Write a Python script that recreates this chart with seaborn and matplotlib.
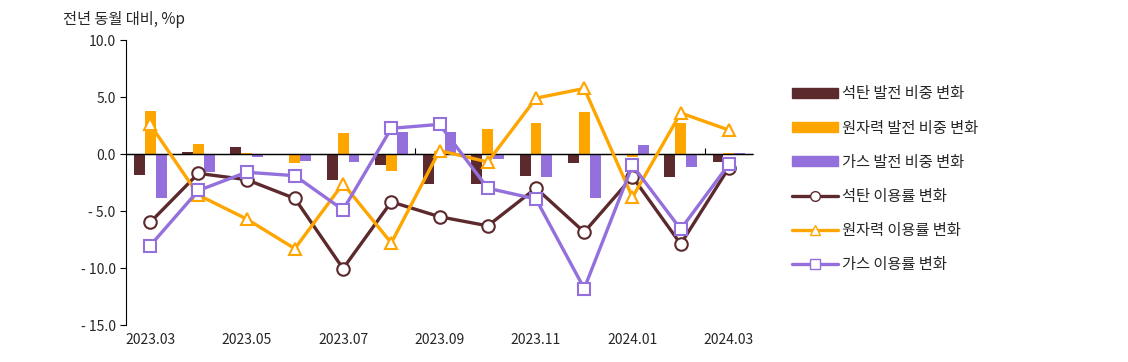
import seaborn as sns
import pandas as pd
import matplotlib.pyplot as plt
from matplotlib.lines import Line2D
from matplotlib.patches import Patch
from matplotlib.ticker import FuncFormatter

months = ["2023.03", "2023.04", "2023.05", "2023.06", "2023.07", "2023.08", "2023.09",
          "2023.10", "2023.11", "2023.12", "2024.01", "2024.02", "2024.03"]

# share change (bars)
coal_share = [-1.8, 0.2, 0.6, -0.1, -2.25, -1.0, -2.6, -2.6, -1.9, -0.8, -0.1, -2.0, -0.7]
nuclear_share = [3.8, 0.9, 0.1, -0.8, 1.8, -1.5, 0.3, 2.2, 2.75, 3.7, -0.3, 2.7, 0.05]
gas_share = [-3.9, -1.6, -0.3, -0.6, -0.7, 1.9, 1.9, -0.4, -2.0, -3.85, 0.75, -1.1, 0.1]

# utilization change (lines)
coal_util = [-6.0, -1.7, -2.25, -3.9, -10.05, -4.2, -5.5, -6.3, -3.0, -6.85, -2.0, -7.9, -1.2]
nuclear_util = [2.6, -3.6, -5.7, -8.3, -2.6, -7.8, 0.3, -0.7, 4.9, 5.75, -3.8, 3.6, 2.1]
gas_util = [-8.05, -3.2, -1.6, -1.9, -4.9, 2.25, 2.6, -3.0, -3.95, -11.8, -1.0, -6.6, -0.9]

bar_names = ["석탄 발전 비중 변화", "원자력 발전 비중 변화", "가스 발전 비중 변화"]
line_names = ["석탄 이용률 변화", "원자력 이용률 변화", "가스 이용률 변화"]
colors = ["#5C2A2C", "#FFA500", "#9370DB"]
markers = ["o", "^", "s"]

sns.set_style("white")
plt.rcParams["font.family"] = ["Noto Sans CJK KR", "DejaVu Sans"]

bars = pd.DataFrame({
    "month": months * 3,
    "value": coal_share + nuclear_share + gas_share,
    "series": [bar_names[0]] * 13 + [bar_names[1]] * 13 + [bar_names[2]] * 13,
})

fig, ax = plt.subplots(figsize=(11.28, 3.62), dpi=100)
fig.subplots_adjust(left=0.1117, right=0.6676, top=0.8895, bottom=0.1022)

sns.barplot(data=bars, x="month", y="value", hue="series", palette=colors,
            width=0.68, gap=0, saturation=1, linewidth=0, legend=False,
            ax=ax, zorder=2)

for vals, c, m in zip([coal_util, nuclear_util, gas_util], colors, markers):
    sns.pointplot(x=months, y=vals, color=c, markers=m, linewidth=2.4,
                  markersize=9, markerfacecolor="white", markeredgecolor=c,
                  markeredgewidth=1.5, ax=ax, zorder=3)

ax.set_xlim(-0.5, 12.5)
ax.set_ylim(-15, 10)
ax.set_yticks([10, 5, 0, -5, -10, -15])
ax.yaxis.set_major_formatter(FuncFormatter(lambda v, p: f"- {abs(v):.1f}" if v < 0 else f"{v:.1f}"))
ax.set_xticks(range(0, 13, 2))
ax.set_xticklabels(months[::2])
ax.tick_params(axis="x", length=0, labelsize=10, pad=6)
ax.tick_params(axis="y", length=4, direction="out", labelsize=10, left=True, color="black")
ax.set_xlabel("")
ax.set_ylabel("")

for s in ["top", "right", "bottom"]:
    ax.spines[s].set_visible(False)
ax.spines["left"].set_color("black")
ax.axhline(0, color="black", lw=1, zorder=2.5)

# small ticks on the zero line
sec = ax.secondary_xaxis(0.6)
sec.set_xticks([5.5, 11.5])
sec.set_xticklabels(["", ""])
sec.tick_params(length=4, direction="out", color="black")
sec.spines["bottom"].set_visible(False)

fig.text(0.056, 0.945, "전년 동월 대비, %p", fontsize=11, va="center")

handles = [Patch(color=c) for c in colors]
handles += [Line2D([0], [0], color=c, lw=2.4, marker=m, markersize=7,
                   markerfacecolor="white", markeredgecolor=c) for c, m in zip(colors, markers)]
fig.legend(handles, bar_names + line_names, loc="upper left",
           bbox_to_anchor=(0.690, 0.802), frameon=False, fontsize=11,
           handlelength=3.0, handleheight=0.6, labelspacing=1.12, handletextpad=0.3)

fig.savefig("out.png", dpi=100)
